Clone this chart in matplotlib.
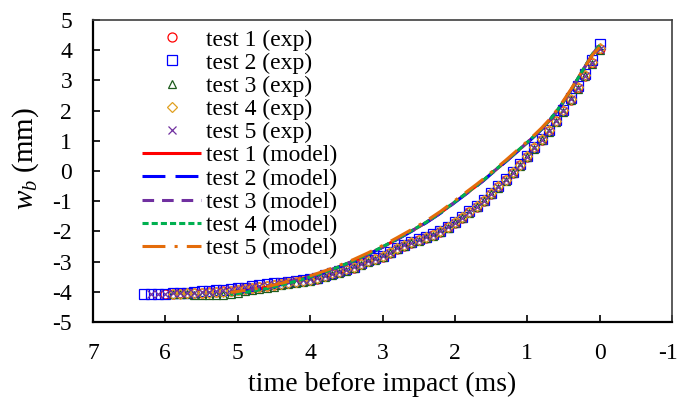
import matplotlib
matplotlib.use("Agg")
import matplotlib.pyplot as plt
import matplotlib.transforms as mtransforms

# time grid of the measurements (ms before impact)
T_EXP = [0.0, 0.1, 0.2, 0.3, 0.4, 0.5, 0.6, 0.7, 0.8, 0.9,
         1.0, 1.1, 1.2, 1.3, 1.4, 1.5, 1.6, 1.7, 1.8, 1.9,
         2.0, 2.1, 2.2, 2.3, 2.4, 2.5, 2.6, 2.7, 2.8, 2.9,
         3.0, 3.1, 3.2, 3.3, 3.4, 3.5, 3.6, 3.7, 3.8, 3.9,
         4.0, 4.1, 4.2, 4.3, 4.4, 4.5, 4.6, 4.7, 4.8, 4.9,
         5.0, 5.1, 5.2, 5.3, 5.4, 5.5, 5.6, 5.7, 5.8, 5.9,
         6.0, 6.1, 6.2, 6.3]

# measured w_b (mm), one list per test, starting at t = 0
W_EXP1 = [4.05, 3.58, 3.15, 2.74, 2.36, 1.99, 1.64, 1.32, 1.03, 0.75,
          0.46, 0.19, -0.06, -0.31, -0.53, -0.76, -0.99, -1.19, -1.37, -1.55,
          -1.72, -1.87, -2.01, -2.13, -2.21, -2.30, -2.39, -2.48, -2.58, -2.72,
          -2.84, -2.92, -2.99, -3.09, -3.20, -3.28, -3.35, -3.41, -3.48, -3.56,
          -3.61, -3.64, -3.67, -3.71, -3.74, -3.77, -3.80, -3.84, -3.88, -3.91,
          -3.93, -3.96, -3.98, -4.00, -4.02, -4.03, -4.04, -4.05, -4.05, -4.06,
          -4.06]
W_EXP2 = [4.20, 3.68, 3.22, 2.80, 2.41, 2.03, 1.69, 1.36, 1.07, 0.79,
          0.50, 0.22, -0.03, -0.28, -0.50, -0.72, -0.96, -1.16, -1.34, -1.52,
          -1.69, -1.84, -1.98, -2.10, -2.18, -2.26, -2.35, -2.44, -2.54, -2.68,
          -2.80, -2.89, -2.96, -3.06, -3.17, -3.25, -3.32, -3.38, -3.46, -3.54,
          -3.58, -3.61, -3.63, -3.67, -3.70, -3.72, -3.75, -3.78, -3.82, -3.86,
          -3.88, -3.91, -3.93, -3.95, -3.97, -3.99, -4.01, -4.03, -4.04, -4.05,
          -4.06, -4.06, -4.07, -4.07]
W_EXP3 = [4.00, 3.55, 3.14, 2.73, 2.35, 1.97, 1.63, 1.30, 1.01, 0.73,
          0.45, 0.17, -0.07, -0.32, -0.55, -0.77, -1.00, -1.20, -1.39, -1.57,
          -1.73, -1.88, -2.02, -2.14, -2.23, -2.31, -2.40, -2.49, -2.59, -2.73,
          -2.85, -2.94, -3.01, -3.11, -3.22, -3.30, -3.37, -3.43, -3.51, -3.59,
          -3.64, -3.68, -3.71, -3.75, -3.79, -3.83, -3.87, -3.91, -3.95, -3.99,
          -4.03, -4.07, -4.10, -4.11, -4.11, -4.10, -4.09, -4.08, -4.08, -4.07]
W_EXP4 = [4.08, 3.62, 3.19, 2.78, 2.40, 2.02, 1.67, 1.35, 1.06, 0.78,
          0.49, 0.21, -0.04, -0.29, -0.51, -0.73, -0.97, -1.17, -1.35, -1.53,
          -1.70, -1.85, -1.99, -2.11, -2.19, -2.27, -2.36, -2.45, -2.55, -2.69,
          -2.81, -2.90, -2.97, -3.07, -3.18, -3.26, -3.33, -3.39, -3.47, -3.55,
          -3.60, -3.63, -3.66, -3.70, -3.73, -3.76, -3.80, -3.84, -3.88, -3.92,
          -3.95, -3.98, -4.00, -4.02, -4.03, -4.04, -4.05, -4.05, -4.06, -4.06]
W_EXP5 = [4.03, 3.59, 3.16, 2.75, 2.37, 1.99, 1.65, 1.33, 1.04, 0.76,
          0.47, 0.19, -0.05, -0.30, -0.52, -0.75, -0.98, -1.18, -1.36, -1.54,
          -1.71, -1.86, -2.00, -2.12, -2.20, -2.28, -2.37, -2.46, -2.56, -2.70,
          -2.82, -2.91, -2.98, -3.08, -3.19, -3.27, -3.34, -3.40, -3.47, -3.54,
          -3.58, -3.60, -3.62, -3.65, -3.69, -3.73, -3.77, -3.80, -3.82, -3.84,
          -3.87, -3.91, -3.95, -3.98, -4.00, -4.02, -4.03, -4.04, -4.05, -4.05,
          -4.06, -4.06, -4.07]

# model predictions
T_MODEL = [0.0, 0.1, 0.2, 0.3, 0.4, 0.5, 0.6, 0.7, 0.8, 0.9,
           1.0, 1.1, 1.2, 1.3, 1.4, 1.5, 1.6, 1.7, 1.8, 1.9,
           2.0, 2.2, 2.4, 2.6, 2.8, 3.0, 3.2, 3.4, 3.6, 3.8,
           4.0, 4.2, 4.4, 4.6, 4.8, 5.0, 5.1]
W_MODEL1 = [4.15, 3.86, 3.46, 3.06, 2.66, 2.29, 1.95, 1.65, 1.39, 1.16,
            0.94, 0.73, 0.52, 0.31, 0.11, -0.09, -0.30, -0.49, -0.67, -0.85,
            -1.03, -1.39, -1.71, -1.99, -2.26, -2.52, -2.76, -2.98, -3.17, -3.35,
            -3.50, -3.63, -3.75, -3.85, -3.93, -4.00, -4.03]
W_MODEL2 = [4.13, 3.85, 3.45, 3.05, 2.65, 2.28, 1.94, 1.64, 1.38, 1.15,
            0.93, 0.72, 0.51, 0.30, 0.10, -0.10, -0.31, -0.50, -0.68, -0.86,
            -1.04, -1.40, -1.72, -2.00, -2.27, -2.53, -2.77, -2.99, -3.18, -3.36,
            -3.51, -3.64, -3.76, -3.86, -3.94, -4.01, -4.04]
W_MODEL3 = [4.14, 3.86, 3.46, 3.06, 2.66, 2.29, 1.95, 1.65, 1.39, 1.16,
            0.94, 0.73, 0.52, 0.31, 0.11, -0.09, -0.30, -0.49, -0.67, -0.85,
            -1.03, -1.39, -1.71, -1.99, -2.26, -2.52, -2.76, -2.98, -3.17, -3.35,
            -3.50, -3.63, -3.75, -3.85, -3.93, -4.00, -4.03]
W_MODEL4 = [4.16, 3.87, 3.47, 3.07, 2.67, 2.30, 1.96, 1.66, 1.40, 1.17,
            0.95, 0.74, 0.53, 0.32, 0.12, -0.08, -0.29, -0.48, -0.66, -0.84,
            -1.02, -1.38, -1.70, -1.98, -2.25, -2.51, -2.75, -2.97, -3.17, -3.35,
            -3.51, -3.65, -3.78, -3.89, -3.98, -4.06, -4.09]
W_MODEL5 = [4.10, 3.84, 3.46, 3.08, 2.69, 2.33, 1.99, 1.69, 1.43, 1.20,
            0.98, 0.77, 0.56, 0.35, 0.15, -0.05, -0.25, -0.44, -0.62, -0.80,
            -0.98, -1.34, -1.66, -1.94, -2.21, -2.47, -2.71, -2.93, -3.13, -3.31,
            -3.47, -3.60, -3.72, -3.83, -3.92, -3.99, -4.02]

EXP_LABELS = ["test 1 (exp)", "test 2 (exp)", "test 3 (exp)", "test 4 (exp)", "test 5 (exp)"]
MODEL_LABELS = ["test 1 (model)", "test 2 (model)", "test 3 (model)",
                "test 4 (model)", "test 5 (model)"]
X_TICKS = [7, 6, 5, 4, 3, 2, 1, 0, -1]
Y_TICKS = [5, 4, 3, 2, 1, 0, -1, -2, -3, -4, -5]

plt.rcParams["font.family"] = ["Liberation Serif", "DejaVu Serif"]
plt.rcParams["mathtext.fontset"] = "custom"
plt.rcParams["mathtext.rm"] = "Liberation Serif"
plt.rcParams["mathtext.it"] = "Liberation Serif:italic"

fig = plt.figure(figsize=(6.79, 4.03), dpi=100)
ax = fig.add_axes([93 / 679, 1 - 322 / 403, (672 - 93) / 679, (322 - 20) / 403])

exp_series = [W_EXP1, W_EXP2, W_EXP3, W_EXP4, W_EXP5]
exp_styles = [
    dict(marker="o", color="#FF0000", ms=6.5),
    dict(marker="s", color="#0000FF", ms=7),
    dict(marker="^", color="#1E5C1E", ms=6),
    dict(marker="D", color="#E0A020", ms=5.5),
    dict(marker="x", color="#7030A0", ms=6),
]
for w, style, label in zip(exp_series, exp_styles, EXP_LABELS):
    ax.plot(T_EXP[:len(w)], w, linestyle="none", marker=style["marker"],
            ms=style["ms"], mfc="none", mec=style["color"], mew=0.9,
            label=label)

model_series = [W_MODEL1, W_MODEL2, W_MODEL3, W_MODEL4, W_MODEL5]
model_styles = [
    dict(color="#FF0000", dashes=()),
    dict(color="#0000FF", dashes=(7.5, 3.3)),
    dict(color="#7030A0", dashes=(3.8, 2.6)),
    dict(color="#00B050", dashes=(2.0, 1.0)),
    dict(color="#E46C0A", dashes=(7.5, 3.0, 1.0, 3.0)),
]
for w, style, label in zip(model_series, model_styles, MODEL_LABELS):
    line, = ax.plot(T_MODEL, w, color=style["color"], lw=2.2, label=label,
                    solid_capstyle="butt", dash_capstyle="butt")
    if style["dashes"]:
        line.set_dashes(style["dashes"])

ax.set_xlim(7, -1)
ax.set_ylim(-5, 5)
ax.set_xticks(X_TICKS)
ax.set_xticklabels([str(v) for v in X_TICKS])
ax.set_yticks(Y_TICKS)
ax.set_yticklabels([str(v) for v in Y_TICKS])
ax.tick_params(axis="x", direction="in", length=5, width=1.2, pad=15,
               labelsize=17)
ax.tick_params(axis="y", direction="in", length=5, width=1.2, pad=15,
               labelsize=17)

# the last x label sits on the right edge of the figure; nudge it inside
last = ax.get_xticklabels()[-1]
last.set_transform(last.get_transform() +
                   mtransforms.ScaledTranslation(-3 / 72, 0, fig.dpi_scale_trans))

for side in ["left", "bottom"]:
    ax.spines[side].set_linewidth(1.6)
    ax.spines[side].set_color("black")
for side in ["top", "right"]:
    ax.spines[side].set_linewidth(1.2)
    ax.spines[side].set_color("#404040")

ax.set_xlabel("time before impact (ms)", fontsize=20, labelpad=6)
ax.set_ylabel("$w_b$ (mm)", fontsize=21)
ax.yaxis.set_label_coords(-0.09, 0.54)

ax.legend(loc="upper left", bbox_to_anchor=(142 / 679, 1 - 29 / 403),
          bbox_transform=fig.transFigure, frameon=False, fontsize=17,
          numpoints=1, handlelength=2.5, handletextpad=0.2,
          labelspacing=0.07, borderpad=0, borderaxespad=0)

fig.savefig("out.png", dpi=100)
